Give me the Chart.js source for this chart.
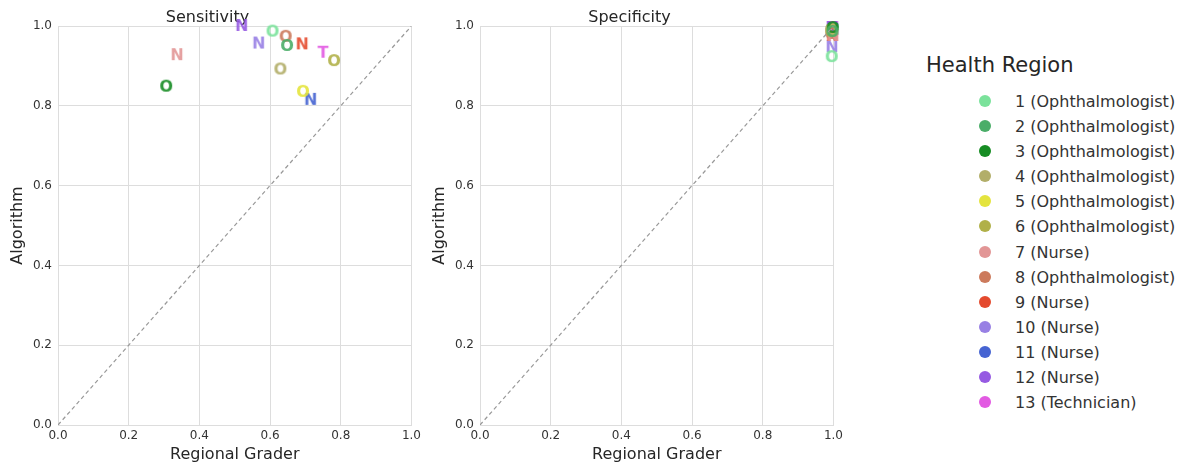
<!DOCTYPE html>
<html>
<head>
<meta charset="utf-8">
<script src="https://cdn.jsdelivr.net/npm/chart.js@4.4.0/dist/chart.umd.min.js"></script>
<style>
  body { margin: 0; background: #fff; width: 1186px; height: 466px; position: relative; overflow: hidden; font-family: "DejaVu Sans", sans-serif; }
  canvas { position: absolute; top: 0; }
  #sens { left: 0; }
  #spec { left: 422px; }
  #legend { position: absolute; left: 926px; top: 53px; color: #262626; }
  #legend h3 { margin: 0 0 12px 0; font-weight: normal; font-size: 21px; }
  .item { position: relative; height: 25.1px; font-size: 16px; line-height: 25px; padding-left: 89px; color: #333; white-space: nowrap; }
  .dot { position: absolute; left: 53px; top: 6px; width: 12px; height: 12px; border-radius: 6px; }
</style>
</head>
<body>
<canvas id="sens" width="425" height="466"></canvas>
<canvas id="spec" width="425" height="466"></canvas>
<div id="legend"><h3>Health Region</h3></div>
<script>
const regions = ['1 (Ophthalmologist)', '2 (Ophthalmologist)', '3 (Ophthalmologist)', '4 (Ophthalmologist)',
  '5 (Ophthalmologist)', '6 (Ophthalmologist)', '7 (Nurse)', '8 (Ophthalmologist)', '9 (Nurse)',
  '10 (Nurse)', '11 (Nurse)', '12 (Nurse)', '13 (Technician)'];
const markers = ['O', 'O', 'O', 'O', 'O', 'O', 'N', 'O', 'N', 'N', 'N', 'N', 'T'];
const colors = ['#7be29b', '#4aad68', '#168c23', '#b2ae69', '#e4e43e', '#b0b048', '#e29696',
  '#cc7a5c', '#e44a2e', '#9880e4', '#4664d2', '#965ae2', '#e25ae2'];

// sensitivity: regional grader vs algorithm
const sensGrader = [0.607, 0.648, 0.306, 0.629, 0.693, 0.781, 0.337, 0.644, 0.691, 0.568, 0.715, 0.520, 0.750];
const sensAlgo   = [0.986, 0.950, 0.848, 0.891, 0.835, 0.912, 0.927, 0.973, 0.954, 0.956, 0.815, 1.000, 0.933];

// specificity
const specGrader = [0.995, 0.997, 0.998, 0.993, 0.996, 0.994, 0.999, 0.994, 0.997, 0.996, 0.999, 0.996, 0.998];
const specAlgo   = [0.922, 0.985, 0.995, 0.990, 0.990, 0.985, 0.975, 0.980, 0.975, 0.947, 0.990, 0.995, 0.995];

const ticks = [0, 0.2, 0.4, 0.6, 0.8, 1.0];

function letterImg(ch, color) {
  const c = document.createElement('canvas');
  c.width = 24; c.height = 24;
  const g = c.getContext('2d');
  g.globalAlpha = 0.9;
  g.fillStyle = color;
  g.font = 'bold 16px "DejaVu Sans"';
  g.textAlign = 'center';
  g.textBaseline = 'middle';
  g.fillText(ch, 12, 13);
  return c;
}

const gridColor = '#dddddd';
const textColor = '#333333';

function makeChart(id, title, xs, ys) {
  const datasets = regions.map((r, i) => ({
    label: r,
    data: [{ x: xs[i], y: ys[i] }],
    pointStyle: letterImg(markers[i], colors[i]),
    pointRadius: 8,
    clip: false
  }));
  datasets.unshift({
    type: 'line',
    label: 'diag',
    data: [{ x: 0, y: 0 }, { x: 1, y: 1 }],
    borderColor: '#999999',
    borderWidth: 1.2,
    borderDash: [4, 3],
    pointRadius: 0
  });
  return new Chart(document.getElementById(id), {
    type: 'scatter',
    data: { datasets },
    options: {
      responsive: false,
      animation: false,
      layout: { padding: { left: 0, right: 10, top: 0, bottom: 0 } },
      plugins: {
        legend: { display: false },
        tooltip: { enabled: false },
        title: {
          display: true, text: title, color: '#262626',
          font: { family: 'DejaVu Sans', size: 16, weight: 'normal', lineHeight: 1 },
          padding: { top: 10, bottom: 0 }
        }
      },
      scales: {
        x: {
          type: 'linear', min: 0, max: 1,
          afterBuildTicks: s => { s.ticks = ticks.map(v => ({ value: v })); },
          afterFit: s => { s.height = 41; },
          grid: { color: gridColor, drawTicks: false },
          border: { color: gridColor },
          ticks: { color: textColor, padding: 4, font: { family: 'DejaVu Sans', size: 12 }, callback: v => v.toFixed(1) },
          title: { display: true, text: 'Regional Grader', color: '#262626', font: { family: 'DejaVu Sans', size: 16 }, padding: { top: 0, bottom: 2 } }
        },
        y: {
          type: 'linear', min: 0, max: 1,
          afterBuildTicks: s => { s.ticks = ticks.map(v => ({ value: v })); },
          afterFit: s => { s.width = 58; },
          grid: { color: gridColor, drawTicks: false },
          border: { color: gridColor },
          ticks: { color: textColor, padding: 6, font: { family: 'DejaVu Sans', size: 12 }, callback: v => v.toFixed(1) },
          title: { display: true, text: 'Algorithm', color: '#262626', font: { family: 'DejaVu Sans', size: 16 }, padding: { top: 8, bottom: 0 } }
        }
      }
    }
  });
}

makeChart('sens', 'Sensitivity', sensGrader, sensAlgo);
makeChart('spec', 'Specificity', specGrader, specAlgo);

const legend = document.getElementById('legend');
regions.forEach((r, i) => {
  const row = document.createElement('div');
  row.className = 'item';
  const dot = document.createElement('span');
  dot.className = 'dot';
  dot.style.background = colors[i];
  row.appendChild(dot);
  row.appendChild(document.createTextNode(r));
  legend.appendChild(row);
});
</script>
</body>
</html>
